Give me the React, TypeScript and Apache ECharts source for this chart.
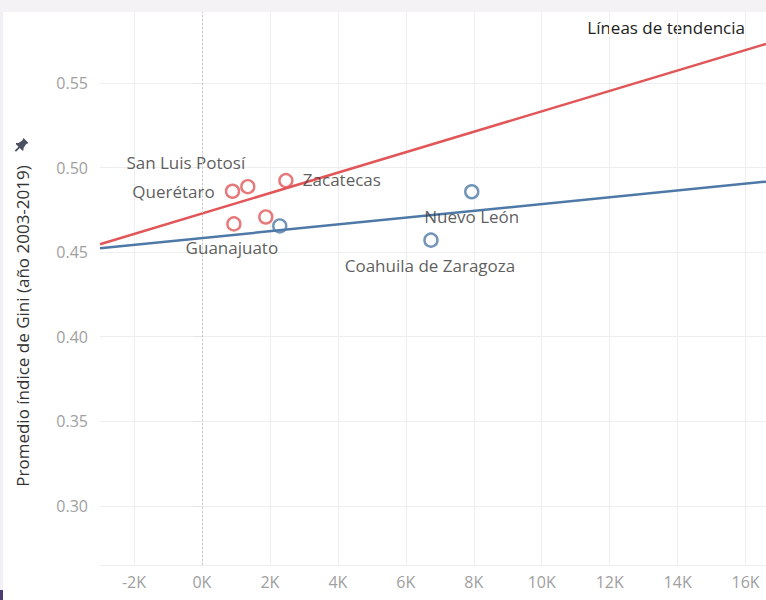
import React, { useEffect, useRef } from "react";
import * as echarts from "echarts";

// Data
const redNames = ["Querétaro", "San Luis Potosí", "Zacatecas", "Guanajuato", ""];
const redX = [900, 1350, 2470, 940, 1880];
const redY = [0.486, 0.4887, 0.4923, 0.4667, 0.4708];

const blueNames = ["", "Nuevo León", "Coahuila de Zaragoza"];
const blueX = [2290, 7940, 6740];
const blueY = [0.4655, 0.4857, 0.4571];

const trendX = [-3000, 16600];
const redTrend = [0.4547, 0.5731];
const blueTrend = [0.4523, 0.4917];

const yTicks = [0.3, 0.35, 0.4, 0.45, 0.5, 0.55];
const xTicks = [-2000, 0, 2000, 4000, 6000, 8000, 10000, 12000, 14000, 16000];

const RED = "#e15759";
const BLUE = "#4e79a7";
const FONT = "Open Sans";

// label placement (style, not data)
const labelOffsets: Record<string, [number, number]> = {
  "Querétaro": [-59, 0],
  "San Luis Potosí": [-62, -24],
  "Zacatecas": [56, -1],
  "Guanajuato": [-2, 24],
  "Nuevo León": [0, 25],
  "Coahuila de Zaragoza": [-1, 25],
};

const pinPath =
  "M6 0 L10 4 L8 5 L6 8 L6 10 L5 10 L3 8 L0 11 L-1 10 L2 7 L0 5 L0 4 L2 4 L5 2 Z";

let pinRegistered = false;

export default function App() {
  const ref = useRef<HTMLDivElement>(null);
  useEffect(() => {
    document.body.style.margin = "0";
    if (!ref.current) return;
    if (!pinRegistered) {
      echarts.graphic.registerShape("pin", echarts.graphic.extendPath(pinPath, {}) as any);
      pinRegistered = true;
    }
    const chart = echarts.init(ref.current, undefined, { renderer: "svg" });

    const mkPoints = (names: string[], xs: number[], ys: number[]) =>
      xs.map((x, i) => {
        const n = names[i];
        const item: any = { value: [x, ys[i]], name: n };
        if (n && labelOffsets[n]) {
          item.label = {
            show: true,
            position: "inside",
            offset: labelOffsets[n],
            formatter: n,
          };
        }
        return item;
      });

    const labelStyle = {
      color: "#333",
      fontFamily: FONT,
      fontSize: 17,
    };

    chart.setOption({
      animation: false,
      backgroundColor: "#ffffff",
      grid: { left: 100, right: 0, top: 12, bottom: 35, containLabel: false },
      xAxis: {
        type: "value",
        min: -3000,
        max: 16600,
        axisLine: { show: false },
        axisTick: { show: false, customValues: xTicks },
        axisLabel: {
          customValues: xTicks,
          formatter: (v: number) => `${Math.round(v / 1000)}K`,
          color: "#a0a0a0",
          fontFamily: FONT,
          fontSize: 16,
          margin: 9,
        },
        splitLine: { show: true, lineStyle: { color: "#eeeeee", width: 1 } },
      },
      yAxis: {
        type: "value",
        min: 0.265,
        max: 0.592,
        axisLine: { show: true, lineStyle: { color: "#eeeeee" } },
        axisTick: { show: true, customValues: yTicks, length: 8, lineStyle: { color: "#e4e4e4" } },
        axisLabel: {
          customValues: yTicks,
          formatter: (v: number) => v.toFixed(2),
          color: "#a0a0a0",
          fontFamily: FONT,
          fontSize: 16,
          margin: 12,
        },
        splitLine: { show: true, lineStyle: { color: "#eeeeee", width: 1 } },
      },
      graphic: [
        { type: "rect", shape: { x: 0, y: 0, width: 766, height: 12 }, style: { fill: "#f5f2f6" }, silent: true },
        { type: "rect", shape: { x: 0, y: 12, width: 3, height: 588 }, style: { fill: "#f3f0f5" }, silent: true },
        { type: "rect", shape: { x: 0, y: 590, width: 3, height: 10 }, style: { fill: "#4b3d72" }, silent: true },
        { type: "rect", shape: { x: 100, y: 565, width: 666, height: 1 }, style: { fill: "#eeeeee" }, silent: true },
        {
          type: "text",
          x: 22,
          y: 326,
          rotation: Math.PI / 2,
          style: {
            text: "Promedio índice de Gini (año 2003-2019)",
            fill: "#333",
            fontFamily: FONT,
            fontSize: 17,
            align: "center",
            verticalAlign: "middle",
          },
        },
        {
          type: "pin",
          x: 16,
          y: 138,
          scaleX: 1.25,
          scaleY: 1.25,
          style: { fill: "#4a5060" },
        },
        {
          type: "text",
          right: 21,
          top: 19,
          style: {
            text: "Líneas de tendencia",
            fill: "#222",
            fontFamily: FONT,
            fontSize: 17,
          },
        },
      ],
      series: [
        {
          type: "line",
          name: "Tendencia rojo",
          data: trendX.map((x, i) => [x, redTrend[i]]),
          showSymbol: false,
          symbol: "none",
          lineStyle: { color: RED, width: 2.5 },
          silent: true,
          z: 2,
          markLine: {
            silent: true,
            symbol: "none",
            label: { show: false },
            lineStyle: { color: "#cccccc", type: [2, 2], width: 1 },
            data: [{ xAxis: 0 }],
          },
        },
        {
          type: "line",
          name: "Tendencia azul",
          data: trendX.map((x, i) => [x, blueTrend[i]]),
          showSymbol: false,
          symbol: "none",
          lineStyle: { color: BLUE, width: 2.5 },
          silent: true,
          z: 2,
        },
        {
          type: "scatter",
          name: "Rojo",
          data: mkPoints(redNames, redX, redY),
          symbol: "circle",
          symbolSize: 13,
          itemStyle: { color: "rgba(255,255,255,0)", borderColor: RED, borderWidth: 2.4 },
          label: { show: false, ...labelStyle },
          z: 3,
        },
        {
          type: "scatter",
          name: "Azul",
          data: mkPoints(blueNames, blueX, blueY),
          symbol: "circle",
          symbolSize: 13,
          itemStyle: { color: "rgba(255,255,255,0)", borderColor: BLUE, borderWidth: 2.4 },
          label: { show: false, ...labelStyle },
          z: 3,
        },
      ],
    });
    return () => chart.dispose();
  }, []);
  return <div ref={ref} style={{ width: 766, height: 600 }} />;
}
